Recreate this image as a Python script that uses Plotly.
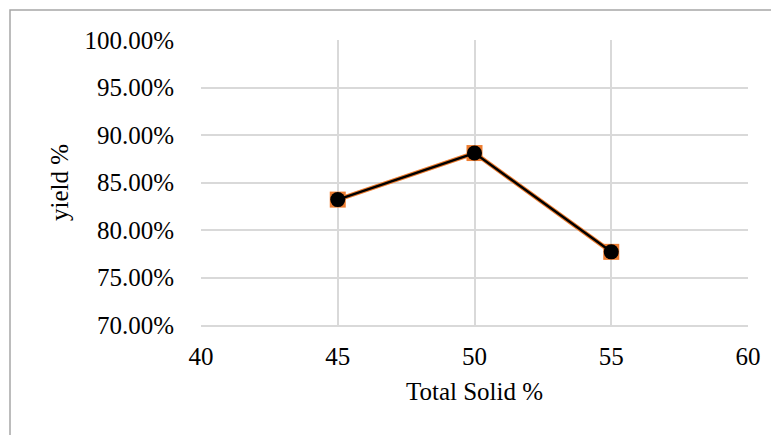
import plotly.graph_objects as go

total_solid = [45, 50, 55]
yield_pct = [0.832, 0.881, 0.777]
x_ticks = [40, 45, 50, 55, 60]
y_ticks = [0.70, 0.75, 0.80, 0.85, 0.90, 0.95, 1.00]

# page body has an 8px offset; margins below are in figure coordinates
L, R, T, B = 193, 39, 32, 118
W, H = 779, 435
pw, ph = W - L - R, H - T - B

fig = go.Figure()
fig.add_trace(go.Scatter(x=total_solid, y=yield_pct, mode="lines+markers",
                         line=dict(color="#ED7D31", width=4.5),
                         marker=dict(symbol="square", size=16, color="#ED7D31"),
                         hoverinfo="skip", showlegend=False))
fig.add_trace(go.Scatter(x=total_solid, y=yield_pct, mode="lines+markers",
                         line=dict(color="black", width=2.5),
                         marker=dict(symbol="circle", size=15, color="black"),
                         showlegend=False))

font = dict(family="Liberation Serif, Times New Roman, serif", color="black")
fig.update_layout(
    width=W, height=H,
    margin=dict(l=L, r=R, t=T, b=B, autoexpand=False),
    paper_bgcolor="white", plot_bgcolor="white",
    font=dict(size=25, **font),
    xaxis=dict(range=[40, 60], tickvals=x_ticks,
               showgrid=True, gridcolor="#d9d9d9", gridwidth=1.5,
               showline=True, linecolor="#d9d9d9", linewidth=1.5,
               zeroline=False, ticks="", ticklen=0, ticklabelstandoff=8,
               tickfont=dict(size=25),
               title=dict(text="Total Solid %", font=dict(size=25), standoff=14)),
    yaxis=dict(range=[0.70, 1.00], tickvals=y_ticks,
               tickformat=".2%", showgrid=True, gridcolor="#d9d9d9", gridwidth=1.5,
               zeroline=False, showline=False, ticks="", ticklen=0, ticklabelstandoff=26,
               tickfont=dict(size=25),
               title=dict(text="yield %", font=dict(size=25), standoff=8)),
    shapes=[dict(type="rect", xref="paper", yref="paper",
                 x0=(2 - L) / pw, x1=(W + 20 - L) / pw,
                 y0=-(H + 20 - T - ph) / ph, y1=1 + (T - 2) / ph,
                 line=dict(color="#a6a6a6", width=1.5), fillcolor="rgba(0,0,0,0)", layer="below")],
)
fig.write_html("out.html")
